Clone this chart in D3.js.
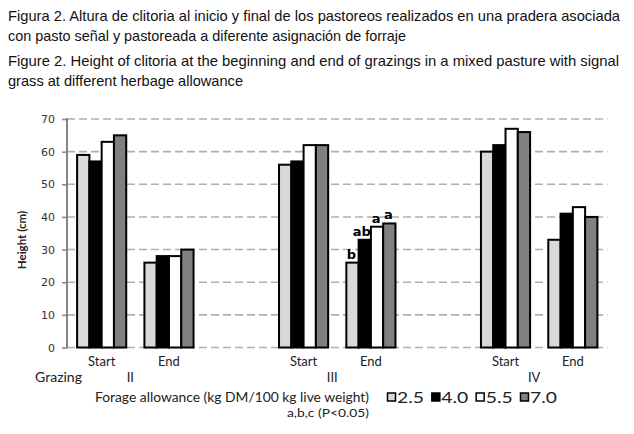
<!DOCTYPE html>
<html>
<head>
<meta charset="utf-8">
<script src="https://cdn.jsdelivr.net/npm/d3@7"></script>
<style>
  body { margin: 0; background: #fff; }
  svg { display: block; }
</style>
</head>
<body>
<div id="chart"></div>
<script>
// chart data
const grazings = ['II', 'III', 'IV'];
const moments = ['Start', 'End'];
const allowances = ['2.5', '4.0', '5.5', '7.0'];
const barColors = ['#d9d9d9', '#000000', '#ffffff', '#808080'];

// heights (cm), one row per grazing x moment, one column per allowance
const valuesII = [[59, 57, 63, 65], [26, 28, 28, 30]];
const valuesIII = [[56, 57, 62, 62], [26, 33, 37, 38]];
const valuesIV = [[60, 62, 67, 66], [33, 41, 43, 40]];
const lettersIIIEnd = ['b', 'ab', 'a', 'a'];
const yTicks = [0, 10, 20, 30, 40, 50, 60, 70];

const titleLines = [
    { text: 'Figura 2.  Altura de clitoria al inicio y final de los pastoreos realizados en una pradera asociada', y: 21, len: 612 },
    { text: 'con pasto señal y pastoreada a diferente asignación de forraje', y: 41, len: 398 },
    { text: 'Figure 2. Height of clitoria at the beginning and end of grazings in a mixed pasture with signal', y: 66, len: 611 },
    { text: 'grass at different herbage allowance', y: 86, len: 235 }
];

const width = 634, height = 434;
const svg = d3.select('#chart').append('svg')
    .attr('width', width)
    .attr('height', height);

// title
svg.append('g').selectAll('text')
    .data(titleLines)
    .enter()
    .append('text')
    .attr('x', 8)
    .attr('y', d => d.y)
    .attr('textLength', d => d.len)
    .attr('lengthAdjust', 'spacingAndGlyphs')
    .attr('font-family', '"Liberation Sans Narrow", "Liberation Sans", Arial, sans-serif')
    .attr('font-size', '15px')
    .attr('fill', '#111')
    .text(d => d.text);

// build rows: slots with empty gaps between grazings
const rows = [];
const allValues = { II: valuesII, III: valuesIII, IV: valuesIV };
grazings.forEach((g, gi) => {
    moments.forEach((m, mi) => {
        rows.push({ key: g + '-' + m, grazing: g, moment: m, values: allValues[g][mi] });
    });
    if (gi < grazings.length - 1) rows.push({ key: 'gap' + gi, gap: true });
});

const axisX = 67;
const x = d3.scaleBand()
    .domain(rows.map(r => r.key))
    .range([axisX, 607.5])
    .paddingInner(0.27)
    .paddingOuter(0.15);

const xSub = d3.scaleBand()
    .domain(allowances)
    .range([0, x.bandwidth()]);

const y = d3.scaleLinear()
    .domain([0, 70])
    .range([347.5, 119]);

// gridlines
svg.append('g').selectAll('line')
    .data(yTicks)
    .enter()
    .append('line')
    .attr('x1', axisX)
    .attr('x2', 607.5)
    .attr('y1', d => y(d))
    .attr('y2', d => y(d))
    .attr('stroke', '#b0b0b0')
    .attr('stroke-width', 1.6)
    .attr('stroke-dasharray', '8,4');

// y axis
const yAxis = svg.append('g')
    .attr('transform', `translate(${axisX},0)`)
    .call(d3.axisLeft(y).tickValues(yTicks).tickSize(5).tickPadding(7));
yAxis.select('.domain').remove();
yAxis.append('line')
    .attr('y1', y(70) - 1)
    .attr('y2', y(0) + 1)
    .attr('stroke', '#868686')
    .attr('stroke-width', 2);
yAxis.selectAll('.tick line').attr('stroke', '#868686').attr('stroke-width', 1.5);
yAxis.selectAll('.tick text')
    .attr('font-family', '"DejaVu Sans", Verdana, sans-serif')
    .attr('font-size', '11px')
    .attr('fill', '#333');

svg.append('text')
    .attr('transform', `translate(26,240) rotate(-90)`)
    .attr('text-anchor', 'middle')
    .attr('font-family', 'Lato, "Open Sans", sans-serif')
    .attr('font-weight', 'bold')
    .attr('font-size', '11.5px')
    .attr('fill', '#222')
    .text('Height  (cm)');

// bars
const dataRows = rows.filter(r => !r.gap);
const groups = svg.append('g').selectAll('g')
    .data(dataRows)
    .enter()
    .append('g')
    .attr('transform', d => `translate(${x(d.key)},0)`);

groups.selectAll('rect')
    .data(d => d.values.map((v, i) => ({ v, a: allowances[i], i })))
    .enter()
    .append('rect')
    .attr('x', d => xSub(d.a))
    .attr('y', d => y(d.v))
    .attr('width', xSub.bandwidth())
    .attr('height', d => y(0) - y(d.v))
    .attr('fill', d => barColors[d.i])
    .attr('stroke', '#000')
    .attr('stroke-width', 2);

// significance letters on III End
const lettersRow = dataRows.find(r => r.key === 'III-End');
svg.append('g').selectAll('text')
    .data(lettersRow.values.map((v, i) => ({ v, a: allowances[i], t: lettersIIIEnd[i] })))
    .enter()
    .append('text')
    .attr('x', d => x(lettersRow.key) + xSub(d.a) + xSub.bandwidth() / 2 - (d.t === 'ab' ? 3 : 1))
    .attr('y', d => y(d.v) - 4)
    .attr('text-anchor', 'middle')
    .attr('font-family', '"DejaVu Sans", Verdana, sans-serif')
    .attr('font-weight', 'bold')
    .attr('font-size', '13px')
    .attr('fill', '#000')
    .text(d => d.t);

// category labels
const labelFont = 'Lato, "Open Sans", sans-serif';
svg.append('g').selectAll('text')
    .data(dataRows)
    .enter()
    .append('text')
    .attr('x', d => x(d.key) + x.bandwidth() / 2)
    .attr('y', 366)
    .attr('text-anchor', 'middle')
    .attr('font-family', labelFont)
    .attr('font-size', '13px')
    .attr('fill', '#222')
    .text(d => d.moment);

svg.append('g').selectAll('text')
    .data(grazings)
    .enter()
    .append('text')
    .attr('x', g => (x(g + '-Start') + x(g + '-End') + x.bandwidth()) / 2 - 5)
    .attr('y', 382)
    .attr('text-anchor', 'middle')
    .attr('font-family', labelFont)
    .attr('font-size', '13px')
    .attr('fill', '#222')
    .text(g => g);

svg.append('text')
    .attr('x', 35)
    .attr('y', 382)
    .attr('textLength', 47)
    .attr('lengthAdjust', 'spacingAndGlyphs')
    .attr('font-family', labelFont)
    .attr('font-size', '13.5px')
    .attr('fill', '#222')
    .text('Grazing');

// legend
svg.append('text')
    .attr('x', 95)
    .attr('y', 402)
    .attr('textLength', 274)
    .attr('lengthAdjust', 'spacingAndGlyphs')
    .attr('font-family', labelFont)
    .attr('font-size', '14px')
    .attr('fill', '#222')
    .text('Forage allowance (kg DM/100 kg live weight)');

svg.append('text')
    .attr('x', 287)
    .attr('y', 417)
    .attr('textLength', 82)
    .attr('lengthAdjust', 'spacingAndGlyphs')
    .attr('font-family', labelFont)
    .attr('font-size', '12px')
    .attr('fill', '#222')
    .text('a,b,c (P<0.05)');

const legendX = d3.scalePoint()
    .domain(allowances)
    .range([387, 520]);

const legendItems = svg.append('g').selectAll('g')
    .data(allowances)
    .enter()
    .append('g')
    .attr('transform', d => `translate(${legendX(d)},397)`);

legendItems.append('rect')
    .attr('x', 0.5)
    .attr('y', -4)
    .attr('width', 8)
    .attr('height', 8)
    .attr('fill', (d, i) => barColors[i])
    .attr('stroke', '#000')
    .attr('stroke-width', 1.5);

legendItems.append('text')
    .attr('x', 10)
    .attr('y', 5.5)
    .attr('textLength', 27)
    .attr('lengthAdjust', 'spacingAndGlyphs')
    .attr('font-family', labelFont)
    .attr('font-size', '16px')
    .attr('fill', '#222')
    .text(d => d);
</script>
</body>
</html>
